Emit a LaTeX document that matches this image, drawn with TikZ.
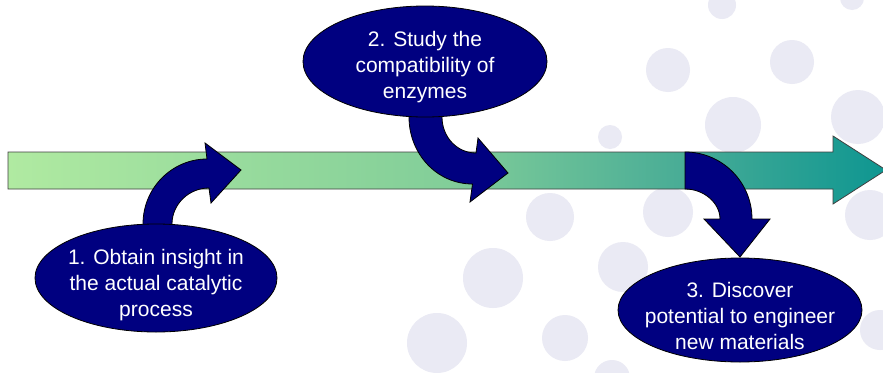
\documentclass[tikz,border=0pt]{standalone}
\usepackage{fontspec}
\setmainfont{Liberation Sans}
\usetikzlibrary{shapes.geometric}
\definecolor{bnavy}{RGB}{0,0,128}
\definecolor{dotc}{RGB}{234,234,244}
\definecolor{ga}{RGB}{176,234,161}
\definecolor{gb}{RGB}{130,206,153}
\definecolor{gc}{RGB}{72,172,150}
\definecolor{gd}{RGB}{14,150,145}
\pgfdeclarehorizontalshading{barshade}{100bp}{color(0bp)=(ga); color(25bp)=(ga); color(50bp)=(gb); color(63.5bp)=(gc); color(75bp)=(gd); color(100bp)=(gd)}
\begin{document}
\begin{tikzpicture}[x=1pt,y=-1pt,
  bubble/.style={ellipse, draw=black, line width=0.8pt, fill=bnavy, inner sep=0pt},
  btext/.style={text=white, align=center, inner sep=0pt, font=\fontsize{21}{26}\selectfont},
  blockarrow/.style={fill=bnavy, draw=black, line width=0.8pt, line join=miter},
  mainbar/.style={shading=barshade, draw=black!75, line width=0.8pt, line join=miter}]
\useasboundingbox (0,0) rectangle (883,372);
\fill[white] (0,0) rectangle (883,372);
% background dots
\foreach \x/\y/\r in {722/5/14, 852/-2/12, 668/70/22, 792/62/22, 733/125/28, 858/117/27,
  610/137/12, 550/217/24, 493/278/30, 623/267/25, 437/343/30, 565/338/23, 668/212/25,
  612/378/18, 880/330/20, 870/215/25}
  \fill[dotc] (\x,\y) circle[radius=\r pt];
% main arrow
\path[mainbar] (8,152) -- (833,152) -- (833,136) -- (886,170) -- (833,204) -- (833,189) -- (8,189) -- cycle;
% curved arrows
\path[blockarrow] (143,236) -- (143,224) .. controls (143,188) and (172,159) .. (207,159)
  -- (205,143) -- (241,170) -- (211,203) -- (209,188)
  .. controls (189,188) and (172,204) .. (172,224) -- (172,236) -- cycle;
\path[blockarrow] (409,108) -- (409,117) .. controls (409,154) and (437,184) .. (472.5,184)
  -- (470,202) -- (508,173) -- (478,138) -- (476,153)
  .. controls (457,153) and (442,137) .. (442,117) -- (442,108) -- cycle;
\path[blockarrow] (685,152) .. controls (722,152) and (752,182) .. (752,219)
  -- (770,219) -- (740,257) -- (704,219) -- (720,219)
  .. controls (720,203) and (704,189) .. (685,189) -- cycle;
% bubbles
\node[bubble, minimum width=242pt, minimum height=108pt] (e1) at (156,278) {};
\node[bubble, minimum width=244pt, minimum height=111pt] (e2) at (425,61.5) {};
\node[bubble, minimum width=244pt, minimum height=104pt] (e3) at (740,310) {};
\node[btext] (t1) at (156,285) {1. Obtain insight in\\the actual catalytic\\process};
\node[btext] (t2) at (425,67) {2. Study the\\compatibility of\\enzymes};
\node[btext] (t3) at (740,316) {3. Discover\\potential to engineer\\new materials};
\end{tikzpicture}
\end{document}
